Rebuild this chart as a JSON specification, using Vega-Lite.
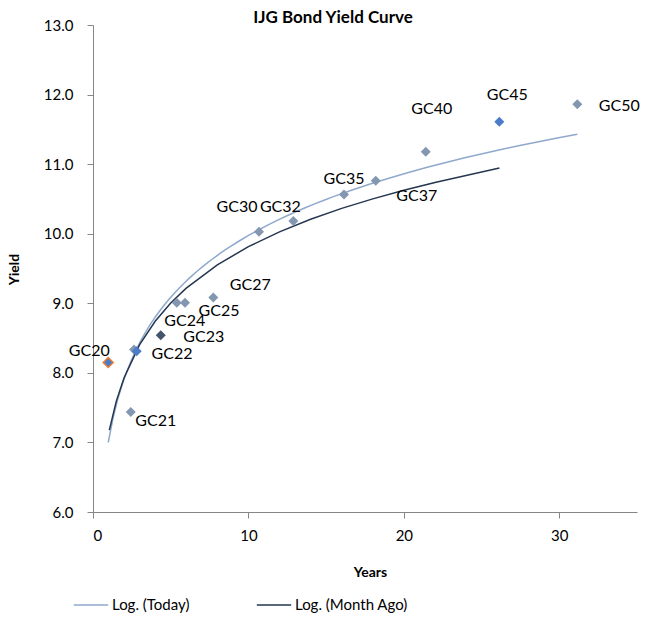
{
  "$schema": "https://vega.github.io/schema/vega-lite/v6.json",
  "width": 544,
  "height": 487,
  "autosize": "none",
  "padding": {"left": 93, "top": 25, "right": 8, "bottom": 117},
  "config": {
    "font": "Lato",
    "view": {"stroke": null},
    "axis": {"grid": false, "domainColor": "#868686", "tickColor": "#868686", "labelFont": "Lato", "labelFontSize": 15, "labelColor": "#000000", "titleColor": "#000000", "titleFont": "Lato", "titleFontSize": 14, "titleFontWeight": "bold"}
  },
  "title": {"text": "IJG Bond Yield Curve", "fontSize": 17, "fontWeight": "bold", "font": "Lato", "color": "#000000", "anchor": "middle", "dx": -32, "offset": -9},
  "datasets": {
    "bonds": [
      {"bond": "GC20", "years": 0.98, "yield": 8.149, "series": "Today", "group": "marked"},
      {"bond": "GC21", "years": 2.43, "yield": 7.438, "series": "Today", "group": "base"},
      {"bond": "GC22", "years": 2.64, "yield": 8.336, "series": "Today", "group": "base"},
      {"bond": "GC22b", "years": 2.81, "yield": 8.311, "series": "Other", "group": "highlight"},
      {"bond": "GC23", "years": 4.36, "yield": 8.541, "series": "Today", "group": "dark"},
      {"bond": "GC24", "years": 5.39, "yield": 9.006, "series": "Today", "group": "base"},
      {"bond": "GC25", "years": 5.92, "yield": 9.006, "series": "Today", "group": "base"},
      {"bond": "GC27", "years": 7.74, "yield": 9.084, "series": "Today", "group": "base"},
      {"bond": "GC30", "years": 10.68, "yield": 10.027, "series": "Today", "group": "base"},
      {"bond": "GC32", "years": 12.89, "yield": 10.181, "series": "Today", "group": "base"},
      {"bond": "GC35", "years": 16.15, "yield": 10.565, "series": "Today", "group": "base"},
      {"bond": "GC37", "years": 18.19, "yield": 10.761, "series": "Today", "group": "base"},
      {"bond": "GC40", "years": 21.41, "yield": 11.178, "series": "Today", "group": "base"},
      {"bond": "GC45", "years": 26.14, "yield": 11.609, "series": "Today", "group": "highlight"},
      {"bond": "GC50", "years": 31.16, "yield": 11.86, "series": "Today", "group": "base"}
    ],
    "monthago": [
      {"years": 1.05, "yield": 7.177},
      {"years": 1.5, "yield": 7.594},
      {"years": 2, "yield": 7.931},
      {"years": 3, "yield": 8.405},
      {"years": 4, "yield": 8.742},
      {"years": 5, "yield": 9.003},
      {"years": 6, "yield": 9.217},
      {"years": 8, "yield": 9.553},
      {"years": 10, "yield": 9.814},
      {"years": 12, "yield": 10.027},
      {"years": 14, "yield": 10.208},
      {"years": 16, "yield": 10.364},
      {"years": 18, "yield": 10.501},
      {"years": 20, "yield": 10.625},
      {"years": 22, "yield": 10.737},
      {"years": 24, "yield": 10.838},
      {"years": 26.15, "yield": 10.945}
    ]
  },
  "data": {"name": "bonds"},
  "encoding": {
    "x": {"field": "years", "type": "quantitative", "scale": {"domain": [0, 35], "nice": false, "zero": false},
      "axis": {"title": "Years", "values": [0, 10, 20, 30], "tickSize": 6, "labelPadding": 10, "titleX": 277, "titleY": 60, "titleBaseline": "middle", "titleAlign": "center"}},
    "y": {"field": "yield", "type": "quantitative", "scale": {"domain": [6, 13], "nice": false, "zero": false},
      "axis": {"title": "Yield", "values": [6, 7, 8, 9, 10, 11, 12, 13], "format": ".1f", "tickSize": 6, "labelPadding": 14, "titleX": -79, "titleY": 244, "titleAngle": -90, "titleBaseline": "middle", "titleAlign": "center"}}
  },
  "layer": [
    {
      "transform": [{"filter": "datum.series === 'Today'"}, {"regression": "yield", "on": "years", "method": "log"}],
      "mark": {"type": "line", "strokeWidth": 1.5},
      "encoding": {"color": {"datum": "Log. (Today)", "type": "nominal",
        "scale": {"domain": ["Log. (Today)", "Log. (Month Ago)"], "range": ["#8FA9CC", "#243650"]},
        "legend": {"title": null, "orient": "none", "legendX": -20, "legendY": 562, "direction": "horizontal", "symbolType": "stroke", "symbolSize": 1180, "symbolStrokeWidth": 1.5, "labelFontSize": 15, "labelFont": "Lato", "labelColor": "#000000", "labelOffset": 3, "columnPadding": 63, "labelLimit": 300}}}
    },
    {
      "data": {"name": "monthago"},
      "mark": {"type": "line", "strokeWidth": 1.5},
      "encoding": {"color": {"datum": "Log. (Month Ago)", "type": "nominal"}}
    },
    {
      "transform": [{"filter": "datum.group !== 'marked'"}],
      "mark": {"type": "point", "shape": "diamond", "size": 100, "filled": true, "opacity": 1, "strokeWidth": 0},
      "encoding": {"fill": {"field": "group", "type": "nominal", "scale": {"domain": ["base", "highlight", "dark", "marked"], "range": ["#8497B0", "#4A7CC8", "#44546A", "#4A7CC8"]}, "legend": null}}
    },
    {
      "transform": [{"filter": "datum.group === 'marked'"}],
      "mark": {"type": "point", "shape": "diamond", "size": 100, "filled": true, "opacity": 1, "fill": "#4A7CC8", "stroke": "#ED7D31", "strokeWidth": 1.5}
    },
    {"transform": [{"filter": "datum.bond === 'GC20'"}], "mark": {"type": "text", "fontSize": 16, "dx": -19, "dy": -11, "color": "#000000"}, "encoding": {"text": {"field": "bond"}}},
    {"transform": [{"filter": "datum.bond === 'GC21'"}], "mark": {"type": "text", "fontSize": 16, "dx": 25, "dy": 9, "color": "#000000"}, "encoding": {"text": {"field": "bond"}}},
    {"transform": [{"filter": "datum.bond === 'GC22'"}], "mark": {"type": "text", "fontSize": 16, "dx": 38, "dy": 5, "color": "#000000"}, "encoding": {"text": {"field": "bond"}}},
    {"transform": [{"filter": "datum.bond === 'GC23'"}], "mark": {"type": "text", "fontSize": 16, "dx": 43, "dy": 2, "color": "#000000"}, "encoding": {"text": {"field": "bond"}}},
    {"transform": [{"filter": "datum.bond === 'GC24'"}], "mark": {"type": "text", "fontSize": 16, "dx": 8, "dy": 18, "color": "#000000"}, "encoding": {"text": {"field": "bond"}}},
    {"transform": [{"filter": "datum.bond === 'GC25'"}], "mark": {"type": "text", "fontSize": 16, "dx": 34, "dy": 8, "color": "#000000"}, "encoding": {"text": {"field": "bond"}}},
    {"transform": [{"filter": "datum.bond === 'GC27'"}], "mark": {"type": "text", "fontSize": 16, "dx": 37, "dy": -12, "color": "#000000"}, "encoding": {"text": {"field": "bond"}}},
    {"transform": [{"filter": "datum.bond === 'GC30'"}], "mark": {"type": "text", "fontSize": 16, "dx": -22, "dy": -25, "color": "#000000"}, "encoding": {"text": {"field": "bond"}}},
    {"transform": [{"filter": "datum.bond === 'GC32'"}], "mark": {"type": "text", "fontSize": 16, "dx": -13, "dy": -14, "color": "#000000"}, "encoding": {"text": {"field": "bond"}}},
    {"transform": [{"filter": "datum.bond === 'GC35'"}], "mark": {"type": "text", "fontSize": 16, "dx": 0, "dy": -15, "color": "#000000"}, "encoding": {"text": {"field": "bond"}}},
    {"transform": [{"filter": "datum.bond === 'GC37'"}], "mark": {"type": "text", "fontSize": 16, "dx": 41, "dy": 15, "color": "#000000"}, "encoding": {"text": {"field": "bond"}}},
    {"transform": [{"filter": "datum.bond === 'GC40'"}], "mark": {"type": "text", "fontSize": 16, "dx": 6, "dy": -43, "color": "#000000"}, "encoding": {"text": {"field": "bond"}}},
    {"transform": [{"filter": "datum.bond === 'GC45'"}], "mark": {"type": "text", "fontSize": 16, "dx": 8, "dy": -27, "color": "#000000"}, "encoding": {"text": {"field": "bond"}}},
    {"transform": [{"filter": "datum.bond === 'GC50'"}], "mark": {"type": "text", "fontSize": 16, "dx": 42, "dy": 2, "color": "#000000"}, "encoding": {"text": {"field": "bond"}}}
  ]
}
